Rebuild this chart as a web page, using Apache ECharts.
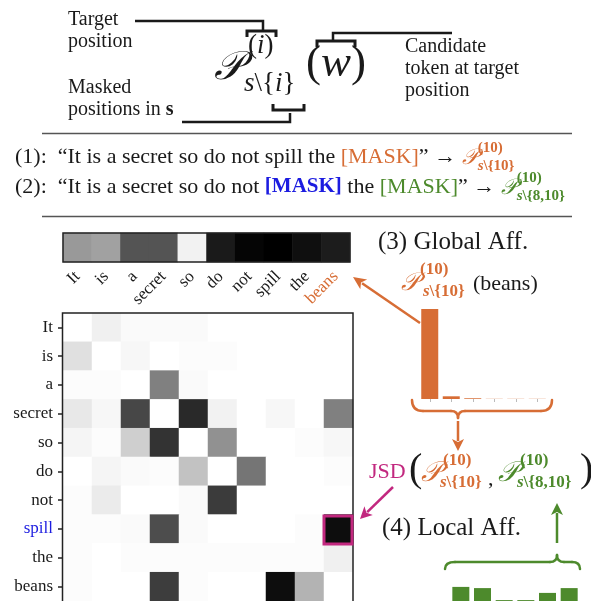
<!DOCTYPE html>
<html><head><meta charset="utf-8">
<script src="https://cdn.jsdelivr.net/npm/echarts@6/dist/echarts.min.js"></script>
<style>html,body{margin:0;padding:0;background:#fff}#c{width:591px;height:601px}</style>
</head><body><div id="c"></div>
<script>
// ---- data ----
const words = ['It','is','a','secret','so','do','not','spill','the','beans'];
const globalAff = [0.40,0.37,0.67,0.67,0.05,0.90,0.98,1.00,0.94,0.89];
const localAff = [
  [0.00,0.06,0.02,0.02,0.02,0.00,0.00,0.00,0.00,0.00],
  [0.12,0.00,0.03,0.00,0.01,0.01,0.00,0.00,0.00,0.00],
  [0.01,0.01,0.00,0.50,0.02,0.00,0.00,0.00,0.00,0.00],
  [0.09,0.03,0.72,0.00,0.84,0.05,0.00,0.03,0.00,0.50],
  [0.04,0.01,0.19,0.80,0.00,0.43,0.00,0.00,0.01,0.03],
  [0.00,0.04,0.02,0.01,0.24,0.00,0.54,0.00,0.00,0.01],
  [0.01,0.08,0.00,0.00,0.02,0.77,0.00,0.00,0.00,0.00],
  [0.01,0.01,0.02,0.70,0.02,0.00,0.00,0.00,0.01,0.95],
  [0.01,0.00,0.01,0.01,0.01,0.01,0.01,0.01,0.01,0.06],
  [0.01,0.00,0.00,0.76,0.01,0.00,0.00,0.95,0.30,0.00]
];
const candIdx = ['1','2','3','4','5','6'];
const probMasked10 = [1.00,0.03,0.008,0.002,0.002,0.002];
const probMasked8_10 = [0.47,0.43,0.03,0.03,0.27,0.43];

// ---- style ----
const ORANGE = '#d76d35', GREEN = '#4d8a2c', BLUE = '#1c1ce0', MAGENTA = '#c2287f', INK = '#1a1a1a';
const F = '"Liberation Serif", "DejaVu Serif", serif';

const cv = document.createElement('canvas').getContext('2d');
function measure(t, font){ cv.font = font; return cv.measureText(t).width; }
function txt(x, y, t, font, color, align){
  return {type:'text', x:x, y:y, z:100, silent:true,
    style:{text:t, font:font, fill:color||INK, align:align||'left', verticalAlign:'middle',
           textAlign:align||'left', textVerticalAlign:'middle'}};
}
function seq(x0, y, parts, out){
  let x = x0;
  for (const p of parts){
    if (p.stack){
      let w = x;
      for (const s of p.stack){ w = Math.max(w, seq(x + (s.dx||0), y + (s.dy||0), s.parts, out)); }
      x = w;
    } else {
      out.push(txt(x, y + (p.dy||0), p.t, p.font, p.color));
      x += measure(p.t, p.font) + (p.gap||0);
    }
  }
  return x;
}
function arrow(x1,y1,x2,y2,color,lw,hl,hw){
  const dx=x2-x1, dy=y2-y1, L=Math.hypot(dx,dy), ux=dx/L, uy=dy/L, nx=-uy, ny=ux;
  const bx=x2-ux*hl, by=y2-uy*hl;
  return [
    {type:'line', z:100, silent:true, shape:{x1:x1,y1:y1,x2:bx+ux*2,y2:by+uy*2}, style:{stroke:color, lineWidth:lw}},
    {type:'polygon', z:100, silent:true, shape:{points:[[x2,y2],[bx+nx*hw,by+ny*hw],[bx+ux*hl*0.25,by+uy*hl*0.25],[bx-nx*hw,by-ny*hw]]}, style:{fill:color}}
  ];
}
function poly(points, color, lw){
  return {type:'polyline', z:100, silent:true, shape:{points:points}, style:{stroke:color, lineWidth:lw, fill:null}};
}
function pathSeg(sx, sy, segs, color, lw){
  const out = []; let x = sx, y = sy;
  for (const s of segs){
    if (s[0]==='L'){
      out.push({type:'line',z:100,silent:true,shape:{x1:x,y1:y,x2:s[1],y2:s[2]},style:{stroke:color,lineWidth:lw,lineCap:'round'}});
      x=s[1]; y=s[2];
    } else {
      out.push({type:'bezierCurve',z:100,silent:true,shape:{x1:x,y1:y,cpx1:s[1],cpy1:s[2],x2:s[3],y2:s[4]},style:{stroke:color,lineWidth:lw,fill:null,lineCap:'round'}});
      x=s[3]; y=s[4];
    }
  }
  return out;
}

const G = [];
// header annotation
G.push(txt(68,20,'Target',`20px ${F}`));
G.push(txt(68,42,'position',`20px ${F}`));
G.push(txt(68,88,'Masked',`20px ${F}`));
seq(68,110,[{t:'positions in ',font:`20px ${F}`},{t:'s',font:`bold 20px ${F}`}],G);
G.push(txt(405,47,'Candidate',`20px ${F}`));
G.push(txt(405,69,'token at target',`20px ${F}`));
G.push(txt(405,91,'position',`20px ${F}`));
// formula
const SP = '𝒫';
G.push(txt(214,68,SP,`italic 40px ${F}`));
seq(248,46,[{t:'(',font:`27px ${F}`},{t:'i',font:`italic 27px ${F}`},{t:')',font:`27px ${F}`}],G);
seq(244,84,[{t:'s',font:`italic 27px ${F}`},{t:'\\{',font:`27px ${F}`},{t:'i',font:`italic 27px ${F}`},{t:'}',font:`27px ${F}`}],G);
seq(306,64,[{t:'(',font:`45px ${F}`},{t:'w',font:`italic 45px ${F}`},{t:')',font:`45px ${F}`}],G);
G.push(poly([[135,21],[263,21],[263,30]],INK,2.5));
G.push(poly([[247,37],[247,31],[276,31],[276,37]],INK,3));
G.push(poly([[452,33],[333,33],[333,41]],INK,2.5));
G.push(poly([[317,47],[317,41],[355,41],[355,47]],INK,3));
G.push(poly([[182,122],[290,122],[290,113]],INK,2.5));
G.push(poly([[273,104],[273,110],[304,110],[304,104]],INK,3));
// rules
G.push({type:'line',z:100,silent:true,shape:{x1:42,y1:133.5,x2:572,y2:133.5},style:{stroke:'#555',lineWidth:1.5}});
G.push({type:'line',z:100,silent:true,shape:{x1:42,y1:216.5,x2:572,y2:216.5},style:{stroke:'#555',lineWidth:1.5}});
// sentences
const f22 = `22px ${F}`, s15b = `bold 15px ${F}`, s15bi = `bold italic 15px ${F}`;
seq(15,157,[
  {t:'(1):  “It is a secret so do not spill the ',font:f22},
  {t:'[MASK]',font:f22,color:ORANGE},
  {t:'” → ',font:f22},
  {t:SP,font:`italic 22px ${F}`,color:ORANGE,dy:1},
  {stack:[
    {dy:-9,parts:[{t:'(10)',font:s15b,color:ORANGE}]},
    {dy:9,parts:[{t:'s',font:s15bi,color:ORANGE},{t:'\\{10}',font:s15b,color:ORANGE}]}
  ]}
],G);
seq(15,187,[
  {t:'(2):  “It is a secret so do not ',font:f22},
  {t:'[MASK]',font:`bold 21px ${F}`,color:BLUE},
  {t:' the ',font:f22},
  {t:'[MASK]',font:f22,color:GREEN},
  {t:'” → ',font:f22},
  {t:SP,font:`italic 22px ${F}`,color:GREEN,dy:1},
  {stack:[
    {dy:-9,parts:[{t:'(10)',font:s15b,color:GREEN}]},
    {dy:9,parts:[{t:'s',font:s15bi,color:GREEN},{t:'\\{8,10}',font:s15b,color:GREEN}]}
  ]}
],G);
// right side annotations
G.push(txt(378,242,'(3) Global Aff.',`25px ${F}`));
const s17b = `bold 17px ${F}`, s17bi = `bold italic 17px ${F}`;
G.push(txt(401,283,SP,`italic 25px ${F}`,ORANGE));
G.push(txt(420,270,'(10)',s17b,ORANGE));
seq(423,292,[{t:'s',font:s17bi,color:ORANGE},{t:'\\{10}',font:s17b,color:ORANGE}],G);
G.push(txt(473,284,'(beans)',`22px ${F}`));
G.push(...arrow(420,323,353,277,ORANGE,2.5,13,6));
G.push(...pathSeg(412,400,[['Q',412,411,423,411],['L',451,411],['Q',458,411,458,418],['Q',458,411,465,411],['L',541,411],['Q',552,411,552,400]],ORANGE,2.5));
G.push(...arrow(458,421,458,451,ORANGE,2.5,12,6));
// JSD expression
G.push(txt(369,472,'JSD',`22px ${F}`,MAGENTA));
G.push(txt(409,470,'(',`40px ${F}`));
G.push(txt(421,474,SP,`italic 28px ${F}`,ORANGE));
G.push(txt(443,461,'(10)',s17b,ORANGE));
seq(440,483,[{t:'s',font:s17bi,color:ORANGE},{t:'\\{10}',font:s17b,color:ORANGE}],G);
G.push(txt(488,479,',',`22px ${F}`));
G.push(txt(498,474,SP,`italic 28px ${F}`,GREEN));
G.push(txt(520,461,'(10)',s17b,GREEN));
seq(517,483,[{t:'s',font:s17bi,color:GREEN},{t:'\\{8,10}',font:s17b,color:GREEN}],G);
G.push(txt(580,470,')',`40px ${F}`));
G.push(...arrow(393,487,360,519,MAGENTA,2.5,12,6));
G.push(txt(382,528,'(4) Local Aff.',`25px ${F}`));
G.push(...arrow(557,543,557,503,GREEN,2.5,12,6));
G.push(...pathSeg(445,569,[['Q',445,562,455,562],['L',550,562],['Q',557,562,557,555],['Q',557,562,564,562],['L',572,562],['Q',580,562,580,569]],GREEN,2.5));
// frames
G.push({type:'rect',z:100,silent:true,shape:{x:63,y:233,width:287,height:29},style:{stroke:'#222',lineWidth:1.5,fill:null}});
G.push({type:'rect',z:100,silent:true,shape:{x:62.5,y:313,width:290.5,height:300},style:{stroke:'#222',lineWidth:1.5,fill:null}});
G.push({type:'rect',z:101,silent:true,shape:{x:324,y:516,width:28,height:28},style:{stroke:MAGENTA,lineWidth:3,fill:null}});

const stripData = globalAff.map((v,i)=>[i,0,v]);
const mainData = [];
localAff.forEach((row,r)=>row.forEach((v,c)=>mainData.push([c,r,v])));

const labelFont = {fontFamily:F, fontSize:17};
const option = {
  animation:false,
  backgroundColor:'#fff',
  grid:[
    {left:63,top:233,width:287,height:29},
    {left:63,top:313,width:290,height:288},
    {left:419,top:309,width:129,height:90},
    {left:450,top:571,width:130,height:30}
  ],
  xAxis:[
    {type:'category',gridIndex:0,data:words,axisLine:{show:false},axisTick:{show:false},
     axisLabel:Object.assign({rotate:45,margin:12,interval:0,color:(v)=>v==='beans'?ORANGE:INK},labelFont)},
    {type:'category',gridIndex:1,data:words,show:false},
    {type:'category',gridIndex:2,data:candIdx,axisLine:{show:false},axisLabel:{show:false},
     axisTick:{show:true,alignWithLabel:true,length:3,lineStyle:{color:'#bbb'}}},
    {type:'category',gridIndex:3,data:candIdx,axisLine:{show:false},axisLabel:{show:false},axisTick:{show:false}}
  ],
  yAxis:[
    {type:'category',gridIndex:0,data:[''],show:false},
    {type:'category',gridIndex:1,data:words,inverse:true,axisLine:{show:false},
     axisTick:{show:true,alignWithLabel:true,length:5,lineStyle:{color:'#222',width:1.5}},
     axisLabel:Object.assign({margin:10,interval:0,color:(v)=>v==='spill'?BLUE:INK},labelFont)},
    {type:'value',gridIndex:2,min:0,max:1,show:false},
    {type:'value',gridIndex:3,min:0,max:1,show:false}
  ],
  visualMap:[
    {type:'continuous',show:false,min:0,max:1,seriesIndex:0,inRange:{color:['#ffffff','#000000']}},
    {type:'continuous',show:false,min:0,max:1,seriesIndex:1,inRange:{color:['#ffffff','#000000']}}
  ],
  series:[
    {type:'heatmap',xAxisIndex:0,yAxisIndex:0,data:stripData,itemStyle:{borderWidth:0}},
    {type:'heatmap',xAxisIndex:1,yAxisIndex:1,data:mainData,itemStyle:{borderWidth:0}},
    {type:'bar',xAxisIndex:2,yAxisIndex:2,data:probMasked10,barWidth:17,itemStyle:{color:ORANGE}},
    {type:'bar',xAxisIndex:3,yAxisIndex:3,data:probMasked8_10,barWidth:17,itemStyle:{color:GREEN}}
  ],
  graphic:{elements:G}
};
const chart = echarts.init(document.getElementById('c'),null,{renderer:'canvas'});
chart.setOption(option);
</script>
</body></html>
